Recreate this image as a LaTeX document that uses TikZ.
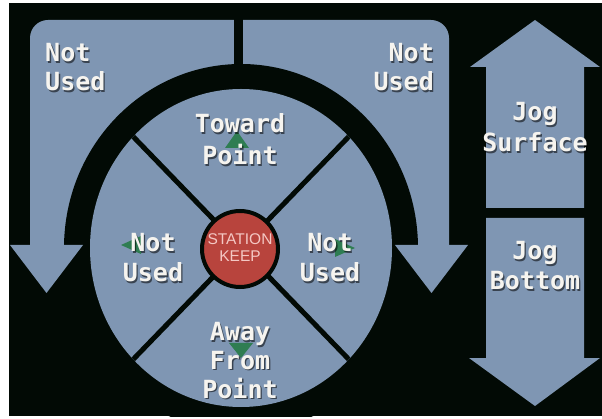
\documentclass[tikz,border=0pt]{standalone}
\usepackage{fontspec}
\newfontfamily\labelfont{DejaVu Sans Mono}
\newfontfamily\badgefont{Liberation Sans}
\definecolor{panelblue}{HTML}{7F96B3}
\definecolor{bgdark}{HTML}{020A05}
\definecolor{stopred}{HTML}{B8443D}
\definecolor{cuegreen}{HTML}{2F7D52}
\definecolor{labelwhite}{HTML}{F6F4EF}
\definecolor{badgetext}{HTML}{F4C8C4}
\tikzset{
  lbl/.style={inner sep=0pt, font=\labelfont\bfseries\fontsize{25}{30}\selectfont, text=labelwhite},
  lblshadow/.style={lbl, text=black, opacity=0.55},
  badge/.style={inner sep=0pt, anchor=base, text=badgetext, font=\badgefont\fontsize{15.5}{17}\selectfont},
  panelfill/.style={fill=panelblue},
  spoke/.style={draw=bgdark, line width=5pt},
  cue/.style={fill=cuegreen},
}
% one line of label text with a soft drop shadow
\newcommand{\linetext}[5]{%
  \node[lblshadow, anchor=#4] at (#2+1.3,#3+1.7) {#5};
  \node[lbl, anchor=#4] (#1) at (#2,#3) {#5};}
\begin{document}
\begin{tikzpicture}[x=1pt,y=-1pt]
\useasboundingbox (0,0) rectangle (602,419);
\fill[white] (0,0) rectangle (602,419);
\fill[bgdark] (9,3) rectangle (602,416);
\begin{scope}
\clip (9,3) rectangle (602,416);
% upper "not used" panel, split by a divider
\begin{scope}
  \clip (0,0) rectangle (602,245);
  \fill[panelfill, rounded corners=18pt] (30,20) rectangle (449,320);
\end{scope}
\fill[bgdark] (241,248) ellipse [x radius=177, y radius=184];
\draw[bgdark, line width=9pt] (238,15) -- (238,75);
% arrow heads of the side panels
\fill[panelfill] (10,245) -- (83,245) -- (46.5,293) -- cycle;
\fill[panelfill] (395,245) -- (468,245) -- (431.5,293) -- cycle;
% jog arrows
\fill[panelfill] (535,20) -- (600,67) -- (584,67) -- (584,208) -- (486,208) -- (486,67) -- (470,67) -- cycle;
\fill[panelfill] (486,218) -- (584,218) -- (584,358) -- (600,358) -- (535,406) -- (469,358) -- (486,358) -- cycle;
% direction wheel
\fill[panelfill] (241,248) ellipse [x radius=151, y radius=159];
\begin{scope}
  \clip (241,248) ellipse [x radius=151, y radius=159];
  \draw[spoke] (91,93) -- (391,403);
  \draw[spoke] (391,93) -- (91,403);
\end{scope}
% direction cues
\fill[cue] (237,131) -- (249,148) -- (225,148) -- cycle;
\fill[cue] (229,343) -- (253,343) -- (241,358) -- cycle;
\fill[cue] (121,245) -- (141,236) -- (141,254) -- cycle;
\fill[cue] (355,248) -- (335,239) -- (335,257) -- cycle;
% station keep button
\node[circle, fill=stopred, draw=bgdark, line width=4pt, minimum size=76pt, inner sep=0pt] (keep) at (240,249) {};
\node[badge] (keepA) at (240,245) {STATION};
\node[badge] (keepB) at (240,262) {KEEP};
% labels
\linetext{tlA}{45}{62}{base west}{Not}
\linetext{tlB}{45}{91}{base west}{Used}
\linetext{trA}{434}{62}{base east}{Not}
\linetext{trB}{434}{91}{base east}{Used}
\linetext{twA}{240}{133}{base}{Toward}
\linetext{twB}{240}{165}{base}{Point}
\linetext{jsA}{535}{121}{base}{Jog}
\linetext{jsB}{535}{152}{base}{Surface}
\linetext{jbA}{535}{260}{base}{Jog}
\linetext{jbB}{535}{290}{base}{Bottom}
\linetext{ilA}{153}{252}{base}{Not}
\linetext{ilB}{153}{282}{base}{Used}
\linetext{irA}{330}{252}{base}{Not}
\linetext{irB}{330}{282}{base}{Used}
\linetext{awA}{240}{341}{base}{Away}
\linetext{awB}{240}{369}{base}{From}
\linetext{awC}{240}{398}{base}{Point}
\end{scope}
\end{tikzpicture}
\end{document}
